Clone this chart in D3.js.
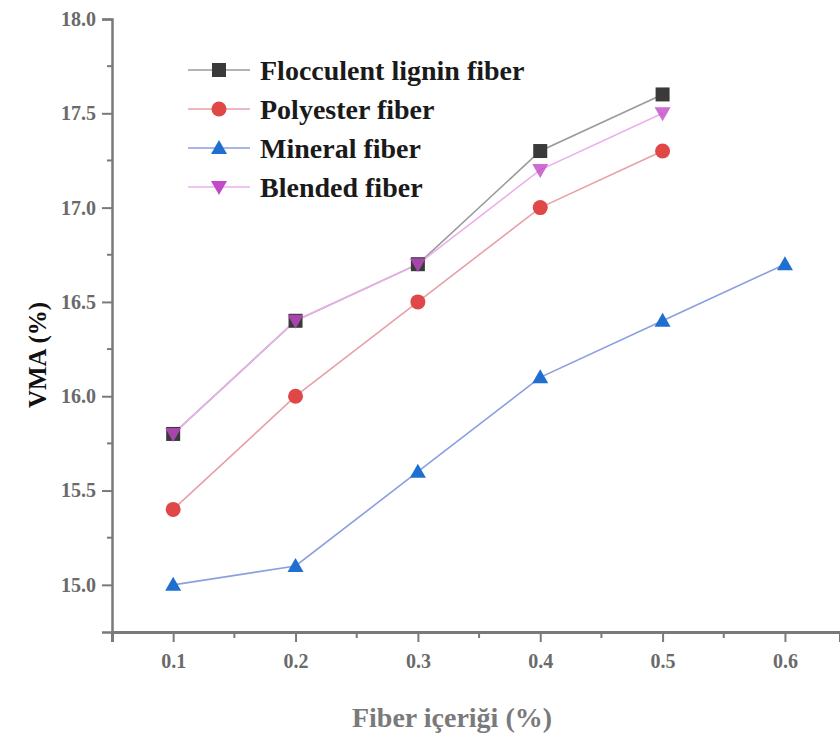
<!DOCTYPE html>
<html>
<head>
<meta charset="utf-8">
<script src="https://cdn.jsdelivr.net/npm/d3@7"></script>
<style>
  body { margin: 0; background: #fff; }
</style>
</head>
<body>
<div class="chart"></div>
<script>
// fiber content (%)
const fiberContent = [0.1, 0.2, 0.3, 0.4, 0.5, 0.6];

// VMA values
const flocculent = [15.8, 16.4, 16.7, 17.3, 17.6];
const polyester = [15.4, 16.0, 16.5, 17.0, 17.3];
const mineral = [15.0, 15.1, 15.6, 16.1, 16.4, 16.7];
const blended = [15.8, 16.4, 16.7, 17.2, 17.5];

const seriesNames = ["Flocculent lignin fiber", "Polyester fiber", "Mineral fiber", "Blended fiber"];

const xTicks = [0.1, 0.2, 0.3, 0.4, 0.5, 0.6];
const yTicks = [15.0, 15.5, 16.0, 16.5, 17.0, 17.5, 18.0];

const width = 840;
const height = 742;
const serif = '"Liberation Serif", "Times New Roman", "DejaVu Serif", serif';

const svg = d3.select('.chart')
    .append('svg')
    .attr('width', width)
    .attr('height', height)
    .style('font-family', serif);

const x = d3.scaleLinear().domain([0.05, 0.645]).range([112, 840]);
const y = d3.scaleLinear().domain([14.75, 18.0]).range([632, 19]);

const series = [
    { name: seriesNames[0], values: flocculent, marker: 'square', fill: '#3a3a3a', line: '#9a9a9a', opacity: 1 },
    { name: seriesNames[1], values: polyester, marker: 'circle', fill: '#e04848', line: '#e8a0a8', opacity: 1 },
    { name: seriesNames[2], values: mineral, marker: 'triangle', fill: '#1f6fd0', line: '#8c9ee0', opacity: 1 },
    { name: seriesNames[3], values: blended, marker: 'down', fill: '#c24ac8', line: '#eab0ea', opacity: 0.8 }
];

const axisColor = '#7a7a7a';

//y axis
const yAxis = svg.append('g')
    .attr('transform', `translate(${x(0.05)},0)`)
    .call(d3.axisLeft(y).tickValues(yTicks).tickFormat(d3.format('.1f')).tickSize(10).tickPadding(6));
yAxis.attr('font-family', serif);
yAxis.select('.domain').attr('stroke', axisColor).attr('stroke-width', 2.5);
yAxis.selectAll('.tick line').attr('stroke', axisColor).attr('stroke-width', 2);
yAxis.selectAll('.tick text')
    .attr('fill', '#6a6a6a')
    .attr('font-size', 20)
    .attr('font-weight', 'bold');

//minor y ticks
svg.selectAll('.ymin')
    .data(d3.range(15.25, 18, 0.5))
    .enter()
    .append('line')
    .attr('x1', x(0.05) - 5)
    .attr('x2', x(0.05))
    .attr('y1', d => y(d))
    .attr('y2', d => y(d))
    .attr('stroke', axisColor)
    .attr('stroke-width', 2);

//x axis
const xAxis = svg.append('g')
    .attr('transform', `translate(0,${y(14.75)})`)
    .call(d3.axisBottom(x).tickValues(xTicks).tickFormat(d3.format('.1f')).tickSize(10).tickPadding(12));
xAxis.attr('font-family', serif);
xAxis.select('.domain').attr('stroke', axisColor).attr('stroke-width', 3);
xAxis.selectAll('.tick line').attr('stroke', axisColor).attr('stroke-width', 2);
xAxis.selectAll('.tick text')
    .attr('fill', '#6a6a6a')
    .attr('font-size', 20)
    .attr('font-weight', 'bold');

//minor x ticks
svg.selectAll('.xmin')
    .data([0.15, 0.25, 0.35, 0.45, 0.55])
    .enter()
    .append('line')
    .attr('x1', d => x(d))
    .attr('x2', d => x(d))
    .attr('y1', y(14.75))
    .attr('y2', y(14.75) + 6)
    .attr('stroke', axisColor)
    .attr('stroke-width', 2);

//axis titles
svg.append('text')
    .attr('x', 452)
    .attr('y', 727)
    .attr('text-anchor', 'middle')
    .attr('font-family', serif)
    .attr('font-size', 28)
    .attr('font-weight', 'bold')
    .attr('fill', '#7a7a7a')
    .text('Fiber içeriği (%)');

svg.append('text')
    .attr('transform', 'translate(46,355) rotate(-90)')
    .attr('text-anchor', 'middle')
    .attr('font-family', serif)
    .attr('font-size', 25)
    .attr('font-weight', 'bold')
    .attr('fill', '#111')
    .text('VMA (%)');

function drawMarker(g, type, fill, opacity) {
    if (type === 'square') {
        g.append('rect').attr('x', -7).attr('y', -7).attr('width', 14).attr('height', 14)
            .attr('fill', fill).attr('opacity', opacity);
    } else if (type === 'circle') {
        g.append('circle').attr('r', 7.5).attr('fill', fill).attr('opacity', opacity);
    } else if (type === 'triangle') {
        g.append('path').attr('d', 'M0,-8L8,6L-8,6Z').attr('fill', fill).attr('opacity', opacity);
    } else {
        g.append('path').attr('d', 'M-8,-6L8,-6L0,8Z').attr('fill', fill).attr('opacity', opacity);
    }
}

const line = d3.line()
    .x((d, i) => x(fiberContent[i]))
    .y(d => y(d));

//lines
series.forEach(s => {
    svg.append('path')
        .datum(s.values)
        .attr('d', line)
        .attr('fill', 'none')
        .attr('stroke', s.line)
        .attr('stroke-width', 1.6);
});

//markers
series.forEach(s => {
    s.values.forEach((v, i) => {
        const g = svg.append('g').attr('transform', `translate(${x(fiberContent[i])},${y(v)})`);
        drawMarker(g, s.marker, s.fill, s.opacity);
    });
});

//legend
const legend = svg.append('g');
series.forEach((s, i) => {
    const ly = 70 + i * 39;
    legend.append('line')
        .attr('x1', 188).attr('x2', 250)
        .attr('y1', ly).attr('y2', ly)
        .attr('stroke', s.line)
        .attr('stroke-width', 1.6);
    const g = legend.append('g').attr('transform', `translate(219,${ly})`);
    drawMarker(g, s.marker, s.fill, 1);
    legend.append('text')
        .attr('x', 260)
        .attr('y', ly + 10)
        .attr('font-family', serif)
        .attr('font-size', 28)
        .attr('font-weight', 'bold')
        .attr('fill', '#1a1a1a')
        .text(s.name);
});
</script>
</body>
</html>
